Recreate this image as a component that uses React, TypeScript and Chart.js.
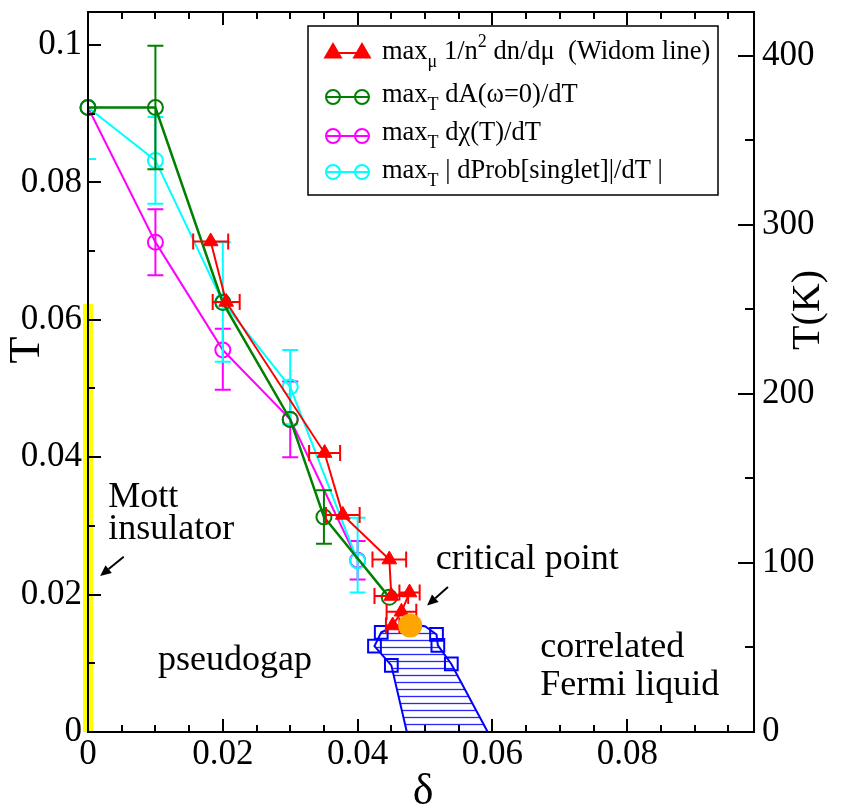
import React, { useEffect, useRef } from 'react';
import { Chart, registerables } from 'chart.js';

Chart.register(...registerables);

const SERIF = "'Liberation Serif', 'Times New Roman', serif";

// ---- axes ----
const deltaMax = 0.0988;
const tMax = 0.1048;
const kelvinMax = 426;
const deltaStep = 0.02;
const deltaMinor = 0.005;
const tStep = 0.02;
const tMinor = 0.01;
const kelvinStep = 100;
const kelvinMinor = 50;

// ---- Widom line: max_mu 1/n^2 dn/dmu (red triangles, horizontal error bars) ----
const widomDelta = [0.0182, 0.0205, 0.0351, 0.0378, 0.0447, 0.0450, 0.0477, 0.0465, 0.0452];
const widomT = [0.0714, 0.0626, 0.0406, 0.0316, 0.0251, 0.0198, 0.0203, 0.0175, 0.0155];
const widomDeltaErr = [0.0026, 0.0020, 0.0023, 0.0025, 0.0025, 0.0025, 0.0015, 0.0022, 0.0010];

// ---- max_T dA(w=0)/dT (green) ----
const dADelta = [0, 0.01, 0.02, 0.03, 0.035, 0.0447];
const dAT = [0.0909, 0.0909, 0.0625, 0.0455, 0.0313, 0.0196];
const dAErrUp = [0, 0.009, 0, 0, 0.0039, 0];
const dAErrDn = [0, 0.009, 0, 0, 0.0039, 0];

// ---- max_T dchi(T)/dT (magenta) ----
const chiDelta = [0, 0.01, 0.02, 0.03, 0.04];
const chiT = [0.0909, 0.0713, 0.0556, 0.0455, 0.0250];
const chiErrUp = [0, 0.0048, 0.0031, 0.0055, 0.0028];
const chiErrDn = [0, 0.0048, 0.0058, 0.0055, 0.0028];

// ---- max_T |dProb[singlet]/dT| (cyan) ----
const singDelta = [0, 0.01, 0.02, 0.03, 0.04];
const singT = [0.0909, 0.0832, 0.0626, 0.0502, 0.0249];
const singErrUp = [0, 0.0063, 0.0087, 0.0054, 0.0063];
const singErrDn = [0.0075, 0.0063, 0.0087, 0.0054, 0.0046];

// ---- first-order region (blue hatched) ----
const polyDelta = [0.0473, 0.0450, 0.0425, 0.0435, 0.0455, 0.0478, 0.0500, 0.0517, 0.0519, 0.0539, 0.0593, 0.0473];
const polyT = [0, 0.0097, 0.0125, 0.0145, 0.0154, 0.0157, 0.0154, 0.0142, 0.0126, 0.0099, 0, 0];
const squareDelta = [0.0435, 0.0425, 0.0450, 0.0517, 0.0519, 0.0539];
const squareT = [0.0145, 0.0125, 0.0097, 0.0142, 0.0126, 0.0099];

// ---- critical point ----
const critDelta = [0.0478];
const critT = [0.0155];

// ---- Mott insulator (yellow bar at delta = 0) ----
const mottDelta = [0, 0];
const mottT = [0, 0.0623];

// ---- annotations (data coordinates) ----
const labelTexts = ['Mott', 'insulator', 'critical point', 'pseudogap', 'correlated', 'Fermi liquid'];
const labelDelta = [0.0030, 0.0030, 0.0516, 0.0104, 0.0671, 0.0671];
const labelT = [0.0327, 0.0281, 0.0237, 0.0090, 0.0109, 0.0054];
const arrowTailDelta = [0.0053, 0.0534];
const arrowTailT = [0.0255, 0.0211];
const arrowHeadDelta = [0.0018, 0.0503];
const arrowHeadT = [0.0227, 0.0184];

const legendParts: [string, string][][] = [
  [['max', ''], ['μ', 'sub'], [' 1/n', ''], ['2', 'sup'], [' dn/dμ  (Widom line)', '']],
  [['max', ''], ['T', 'sub'], [' dA(ω=0)/dT', '']],
  [['max', ''], ['T', 'sub'], [' dχ(T)/dT', '']],
  [['max', ''], ['T', 'sub'], [' | dProb[singlet]|/dT |', '']],
];

const pts = (xs: number[], ys: number[]) => xs.map((x, i) => ({ x, y: ys[i] }));
const fmt = (v: number) => String(Number(Number(v).toFixed(3)));

const RED = '#ff0000';
const GREEN = '#008000';
const MAGENTA = '#ff00ff';
const CYAN = '#00ffff';
const BLUE = '#0000ff';

export default function App() {
  const ref = useRef<HTMLCanvasElement>(null);

  useEffect(() => {
    const canvas = ref.current!;

    // hatch pattern
    const pc = document.createElement('canvas');
    pc.width = 8;
    pc.height = 7;
    const pctx = pc.getContext('2d')!;
    pctx.strokeStyle = 'rgba(0,0,255,0.85)';
    pctx.lineWidth = 1.3;
    pctx.beginPath();
    pctx.moveTo(0, 3.5);
    pctx.lineTo(8, 3.5);
    pctx.stroke();
    const hatch = canvas.getContext('2d')!.createPattern(pc, 'repeat');

    const POLY = 6;

    const hatchPlugin = {
      id: 'hatch',
      beforeDatasetsDraw(chart: any) {
        const meta = chart.getDatasetMeta(POLY);
        const ctx = chart.ctx;
        ctx.save();
        ctx.beginPath();
        meta.data.forEach((p: any, i: number) => (i ? ctx.lineTo(p.x, p.y) : ctx.moveTo(p.x, p.y)));
        ctx.closePath();
        ctx.fillStyle = hatch;
        ctx.fill();
        ctx.restore();
      },
    };

    const errorPlugin = {
      id: 'errorBars',
      beforeDatasetDraw(chart: any, args: any) {
        const ds = chart.data.datasets[args.index];
        const eb = ds.errorBars;
        if (!eb) return;
        const ctx = chart.ctx;
        const xs = chart.scales.x;
        const ys = chart.scales.y;
        const a = chart.chartArea;
        ctx.save();
        ctx.beginPath();
        ctx.rect(a.left, a.top, a.right - a.left, a.bottom - a.top);
        ctx.clip();
        ctx.strokeStyle = ds.borderColor;
        ctx.lineWidth = 2;
        ctx.beginPath();
        const cap = 8;
        ds.data.forEach((p: any, i: number) => {
          const px = xs.getPixelForValue(p.x);
          const py = ys.getPixelForValue(p.y);
          if (eb.up) {
            const u = eb.up[i] || 0;
            const d = eb.dn[i] || 0;
            if (u || d) {
              const y1 = ys.getPixelForValue(p.y + u);
              const y2 = ys.getPixelForValue(p.y - d);
              ctx.moveTo(px, y1);
              ctx.lineTo(px, y2);
              if (u) { ctx.moveTo(px - cap, y1); ctx.lineTo(px + cap, y1); }
              if (d) { ctx.moveTo(px - cap, y2); ctx.lineTo(px + cap, y2); }
            }
          }
          if (eb.x) {
            const e = eb.x[i] || 0;
            if (e) {
              const x1 = xs.getPixelForValue(p.x - e);
              const x2 = xs.getPixelForValue(p.x + e);
              ctx.moveTo(x1, py);
              ctx.lineTo(x2, py);
              ctx.moveTo(x1, py - cap); ctx.lineTo(x1, py + cap);
              ctx.moveTo(x2, py - cap); ctx.lineTo(x2, py + cap);
            }
          }
        });
        ctx.stroke();
        ctx.restore();
      },
    };

    const framePlugin = {
      id: 'frame',
      afterDatasetsDraw(chart: any) {
        const { ctx, chartArea: a, scales } = chart;
        const xs = scales.x, ys = scales.y, ks = scales.y2;
        ctx.save();
        ctx.strokeStyle = '#000';
        ctx.lineWidth = 2;
        ctx.strokeRect(a.left, a.top, a.right - a.left, a.bottom - a.top);
        ctx.beginPath();
        for (let i = 1; i * deltaMinor <= deltaMax + 1e-9; i++) {
          const v = i * deltaMinor;
          const px = Math.round(xs.getPixelForValue(v));
          const len = Math.abs(v / deltaStep - Math.round(v / deltaStep)) < 1e-6 ? 13 : 7;
          ctx.moveTo(px, a.bottom); ctx.lineTo(px, a.bottom - len);
          ctx.moveTo(px, a.top); ctx.lineTo(px, a.top + len);
        }
        for (let i = 1; i * tMinor <= tMax + 1e-9; i++) {
          const v = i * tMinor;
          const py = Math.round(ys.getPixelForValue(v));
          const len = Math.abs(v / tStep - Math.round(v / tStep)) < 1e-6 ? 13 : 7;
          ctx.moveTo(a.left, py); ctx.lineTo(a.left + len, py);
        }
        for (let i = 1; i * kelvinMinor <= kelvinMax; i++) {
          const v = i * kelvinMinor;
          const py = Math.round(ks.getPixelForValue(v));
          const len = v % kelvinStep === 0 ? 16 : 9;
          ctx.moveTo(a.right, py); ctx.lineTo(a.right - len, py);
        }
        ctx.stroke();
        ctx.restore();
      },
    };

    const drawArrow = (ctx: CanvasRenderingContext2D, x1: number, y1: number, x2: number, y2: number) => {
      const ang = Math.atan2(y2 - y1, x2 - x1);
      const hl = 11, hw = 5;
      const bx = x2 - hl * Math.cos(ang), by = y2 - hl * Math.sin(ang);
      ctx.beginPath();
      ctx.moveTo(x1, y1);
      ctx.lineTo(bx, by);
      ctx.stroke();
      ctx.beginPath();
      ctx.moveTo(x2, y2);
      ctx.lineTo(bx + hw * Math.sin(ang), by - hw * Math.cos(ang));
      ctx.lineTo(bx - hw * Math.sin(ang), by + hw * Math.cos(ang));
      ctx.closePath();
      ctx.fill();
    };

    const decorPlugin = {
      id: 'decor',
      afterDraw(chart: any) {
        const { ctx, scales, chartArea: a } = chart;
        const xs = scales.x, ys = scales.y;
        ctx.save();
        ctx.fillStyle = '#000';
        ctx.strokeStyle = '#000';
        // annotations
        ctx.font = `36px ${SERIF}`;
        ctx.textAlign = 'left';
        ctx.textBaseline = 'alphabetic';
        labelTexts.forEach((t, i) => {
          ctx.fillText(t, xs.getPixelForValue(labelDelta[i]), ys.getPixelForValue(labelT[i]));
        });
        ctx.lineWidth = 2;
        arrowTailDelta.forEach((_, i) => {
          drawArrow(ctx,
            xs.getPixelForValue(arrowTailDelta[i]), ys.getPixelForValue(arrowTailT[i]),
            xs.getPixelForValue(arrowHeadDelta[i]), ys.getPixelForValue(arrowHeadT[i]));
        });

        // axis titles
        ctx.textAlign = 'center';
        ctx.font = `44px ${SERIF}`;
        ctx.fillText('δ', (a.left + a.right) / 2 + 2, 804);
        ctx.save();
        ctx.translate(27, 350);
        ctx.rotate(-Math.PI / 2);
        ctx.textBaseline = 'middle';
        ctx.fillText('T', 0, 0);
        ctx.restore();
        ctx.save();
        ctx.translate(808, 310);
        ctx.rotate(-Math.PI / 2);
        ctx.textBaseline = 'middle';
        ctx.font = `40px ${SERIF}`;
        ctx.fillText('T(K)', 0, 0);
        ctx.restore();

        // legend box
        const L = 308, T = 26, W = 410, H = 169;
        ctx.fillStyle = '#fff';
        ctx.fillRect(L, T, W, H);
        ctx.lineWidth = 1.5;
        ctx.strokeStyle = '#000';
        ctx.strokeRect(L, T, W, H);
        const ds = chart.data.datasets;
        const rowDs = [1, 2, 4, 3];
        const rowY = [53, 97, 136, 172];
        const baseY = [59, 102, 140, 178];
        rowDs.forEach((di, r) => {
          const d = ds[di];
          const y = rowY[r];
          ctx.strokeStyle = d.borderColor;
          ctx.fillStyle = d.borderColor;
          ctx.lineWidth = 2;
          ctx.beginPath();
          ctx.moveTo(333, y);
          ctx.lineTo(362, y);
          ctx.stroke();
          [333, 362].forEach((mx) => {
            ctx.beginPath();
            if (d.pointStyle === 'triangle') {
              const rr = 11;
              ctx.moveTo(mx, y - rr);
              ctx.lineTo(mx + rr * 0.866, y + rr * 0.5);
              ctx.lineTo(mx - rr * 0.866, y + rr * 0.5);
              ctx.closePath();
              ctx.fill();
            } else {
              ctx.arc(mx, y, 7, 0, Math.PI * 2);
              ctx.stroke();
              ctx.beginPath();
              ctx.moveTo(mx - 7, y);
              ctx.lineTo(mx + 7, y);
              ctx.stroke();
            }
          });
          // text
          ctx.fillStyle = '#000';
          ctx.textAlign = 'left';
          ctx.textBaseline = 'alphabetic';
          let x = 382;
          legendParts[r].forEach(([t, kind]) => {
            let dy = 0;
            let size = 26.5;
            if (kind === 'sub') { size = 18; dy = 8; }
            if (kind === 'sup') { size = 18; dy = -12; }
            ctx.font = `${size}px ${SERIF}`;
            ctx.fillText(t, x, baseY[r] + dy);
            x += ctx.measureText(t).width;
          });
        });
        ctx.restore();
      },
    };

    const circleSeries = (label: string, xs: number[], ys: number[], color: string, up: number[], dn: number[]) => ({
      label,
      data: pts(xs, ys),
      showLine: true,
      borderColor: color,
      backgroundColor: 'transparent',
      borderWidth: 2,
      pointStyle: 'circle',
      pointRadius: 7.5,
      pointBorderWidth: 2,
      pointBackgroundColor: 'transparent',
      clip: 12,
      errorBars: { up, dn },
    });

    const chart = new Chart(canvas, {
      type: 'scatter',
      data: {
        datasets: [
          {
            label: 'critical point',
            data: pts(critDelta, critT),
            pointRadius: 12,
            pointBackgroundColor: '#ffa500',
            pointBorderWidth: 0,
            borderColor: '#ffa500',
            clip: 20,
          },
          {
            label: 'max_μ 1/n² dn/dμ (Widom line)',
            data: pts(widomDelta, widomT),
            showLine: true,
            borderColor: RED,
            backgroundColor: RED,
            borderWidth: 2,
            pointStyle: 'triangle',
            pointRadius: 8.5,
            pointBackgroundColor: RED,
            pointBorderWidth: 1,
            clip: 12,
            errorBars: { x: widomDeltaErr },
          },
          { ...circleSeries('max_T dA(ω=0)/dT', dADelta, dAT, GREEN, dAErrUp, dAErrDn), borderWidth: 2.5 },
          circleSeries('max_T |dProb[singlet]|/dT|', singDelta, singT, CYAN, singErrUp, singErrDn),
          circleSeries('max_T dχ(T)/dT', chiDelta, chiT, MAGENTA, chiErrUp, chiErrDn),
          {
            label: 'squares',
            data: pts(squareDelta, squareT),
            showLine: false,
            pointStyle: 'rect',
            pointRadius: 9,
            pointBorderWidth: 2,
            borderColor: BLUE,
            pointBackgroundColor: 'transparent',
            clip: 12,
          },
          {
            label: 'first-order region',
            data: pts(polyDelta, polyT),
            showLine: true,
            borderColor: BLUE,
            borderWidth: 2,
            pointRadius: 0,
            fill: false,
            clip: 4,
          },
          {
            label: 'Mott insulator',
            data: pts(mottDelta, mottT),
            showLine: true,
            borderColor: '#ffff00',
            borderWidth: 10,
            borderCapStyle: 'butt',
            pointRadius: 0,
            clip: false,
          },
        ] as any,
      },
      options: {
        responsive: false,
        animation: false,
        events: [],
        layout: { padding: { top: 8, left: 0, right: 0, bottom: 0 } },
        plugins: { legend: { display: false }, tooltip: { enabled: false } },
        scales: {
          x: {
            type: 'linear',
            position: 'bottom',
            min: 0,
            max: deltaMax,
            grid: { display: false, drawTicks: false },
            border: { display: false },
            ticks: {
              stepSize: deltaStep,
              includeBounds: false,
              autoSkip: false,
              maxRotation: 0,
              padding: 2,
              color: '#000',
              font: { family: SERIF, size: 35 },
              callback: (v: any) => fmt(v),
            },
            afterFit: (s: any) => { s.height = 77; s.paddingLeft = 0; s.paddingRight = 0; },
          },
          y: {
            type: 'linear',
            position: 'left',
            min: 0,
            max: tMax,
            grid: { display: false, drawTicks: false },
            border: { display: false },
            ticks: {
              stepSize: tStep,
              includeBounds: false,
              autoSkip: false,
              padding: 6,
              color: '#000',
              font: { family: SERIF, size: 35 },
              callback: (v: any) => fmt(v),
            },
            afterFit: (s: any) => { s.width = 88; s.paddingTop = 0; s.paddingBottom = 0; },
          },
          y2: {
            type: 'linear',
            position: 'right',
            min: 0,
            max: kelvinMax,
            grid: { display: false, drawTicks: false },
            border: { display: false },
            ticks: {
              stepSize: kelvinStep,
              includeBounds: false,
              autoSkip: false,
              padding: 8,
              color: '#000',
              font: { family: SERIF, size: 35 },
              callback: (v: any) => fmt(v),
            },
            afterFit: (s: any) => { s.width = 98; s.paddingTop = 0; s.paddingBottom = 0; },
          },
        },
      } as any,
      plugins: [hatchPlugin, errorPlugin, framePlugin, decorPlugin],
    });

    return () => chart.destroy();
  }, []);

  return (
    <div style={{ position: 'absolute', left: 0, top: 0, width: 852, height: 809, background: '#fff' }}>
      <canvas ref={ref} width={852} height={809} style={{ display: 'block', width: 852, height: 809 }} />
    </div>
  );
}
